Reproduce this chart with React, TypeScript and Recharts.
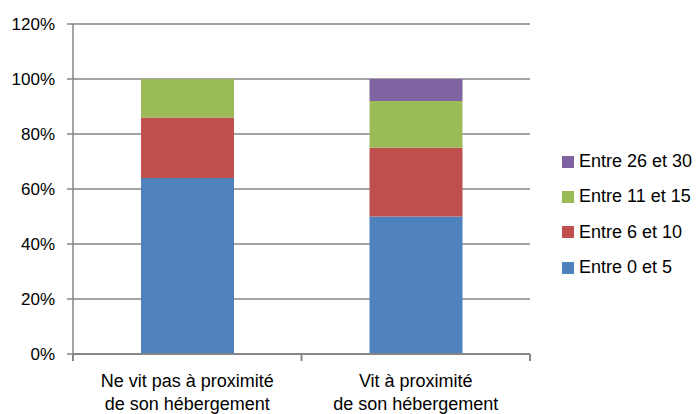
import { Bar, BarChart, CartesianGrid, Legend, XAxis, YAxis } from "recharts";

const categories = [
  ["Ne vit pas à proximité", "de son hébergement"],
  ["Vit à proximité", "de son hébergement"],
];
const entre0et5 = [64, 50];
const entre6et10 = [22, 25];
const entre11et15 = [14, 17];
const entre26et30 = [0, 8];
const yTicks = [0, 20, 40, 60, 80, 100, 120];

const series = [
  { key: "e0", name: "Entre 0 et 5", values: entre0et5, color: "#4F81BD" },
  { key: "e6", name: "Entre 6 et 10", values: entre6et10, color: "#C0504D" },
  { key: "e11", name: "Entre 11 et 15", values: entre11et15, color: "#9BBB59" },
  { key: "e26", name: "Entre 26 et 30", values: entre26et30, color: "#8064A2" },
];

const data = categories.map((lines, i) => {
  const row: any = { name: lines.join(" ") };
  series.forEach((s) => (row[s.key] = s.values[i]));
  return row;
});

const W = 696;
const H = 414;
const margin = { top: 24, right: 166, left: 0, bottom: 0 };
const Y_WIDTH = 73;
const FONT = "'Liberation Sans', Arial, sans-serif";
const GRID = "#868686";
const halfBand = (W - margin.left - margin.right - Y_WIDTH) / categories.length / 2;

// category labels on two lines, plus tick marks at the band edges
const XTick = ({ x, y, index }: any) => {
  const lines = categories[index];
  return (
    <g>
      <line x1={x - halfBand} x2={x - halfBand} y1={y} y2={y + 7} stroke={GRID} strokeWidth={2} />
      {index === categories.length - 1 && (
        <line x1={x + halfBand} x2={x + halfBand} y1={y} y2={y + 7} stroke={GRID} strokeWidth={2} />
      )}
      <text x={x} y={y} textAnchor="middle" fontFamily={FONT} fontSize={18} fill="#000">
        <tspan x={x} dy={33}>{lines[0]}</tspan>
        <tspan x={x} dy={22.5}>{lines[1]}</tspan>
      </text>
    </g>
  );
};

const LegendBox = () => (
  <div style={{ fontFamily: FONT, fontSize: 18, color: "#000" }}>
    {[...series].reverse().map((s) => (
      <div key={s.key} style={{ display: "flex", alignItems: "center", height: 35.3, whiteSpace: "nowrap" }}>
        <span style={{ width: 12, height: 12, background: s.color, marginRight: 5 }} />
        <span>{s.name}</span>
      </div>
    ))}
  </div>
);

export default function App() {
  return (
    <div style={{ position: "absolute", left: 0, top: 0, background: "#fff" }}>
      <BarChart width={W} height={H} data={data} margin={margin} barSize={93}>
        <CartesianGrid vertical={false} stroke={GRID} strokeWidth={1.5} />
        <XAxis
          dataKey="name"
          height={60}
          tickSize={0}
          tickMargin={0}
          tickLine={false}
          axisLine={{ stroke: GRID, strokeWidth: 2 }}
          tick={<XTick />}
          interval={0}
        />
        <YAxis
          width={Y_WIDTH}
          domain={[0, 120]}
          ticks={yTicks}
          tickFormatter={(v) => `${v}%`}
          tickSize={6}
          tickMargin={12}
          axisLine={{ stroke: GRID, strokeWidth: 1.5 }}
          tickLine={{ stroke: GRID, strokeWidth: 1.5 }}
          tick={{ fill: "#000", fontSize: 17, fontFamily: FONT }}
        />
        <Legend
          layout="vertical"
          align="center"
          verticalAlign="middle"
          content={<LegendBox />}
          wrapperStyle={{ left: 562, top: 144, width: 134 }}
        />
        {series.map((s) => (
          <Bar key={s.key} dataKey={s.key} name={s.name} stackId="a" fill={s.color} isAnimationActive={false} />
        ))}
      </BarChart>
    </div>
  );
}
